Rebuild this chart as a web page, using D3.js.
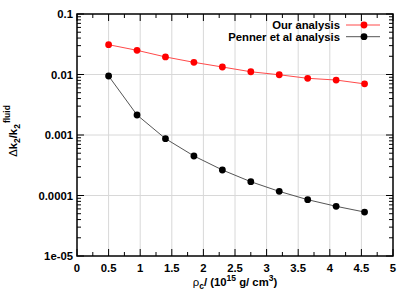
<!DOCTYPE html>
<html lang="en">
	<head>
		<meta charset="utf-8">
		<title>Delta k2 / k2 fluid</title>
		<script src="https://cdn.jsdelivr.net/npm/d3@7"></script>
		<style type="text/css">
			body { margin: 0; background: #fff; }
			text { font-family: "Liberation Sans", Arial, sans-serif; font-weight: bold; }
		</style>
	</head>
	<body>
		<script type="text/javascript">

			//Width and height
			var w = 415;
			var h = 297;
			var margin = { top: 14, right: 22, bottom: 41, left: 77 };

			// data
			var rho = [0.5, 0.95, 1.4, 1.85, 2.3, 2.75, 3.2, 3.65, 4.1, 4.55];
			var ourAnalysis = [0.0311, 0.0251, 0.0195, 0.0159, 0.0133, 0.0111, 0.0099, 0.00865, 0.0081, 0.0070];
			var pennerAnalysis = [0.00945, 0.00214, 0.00087, 0.00045, 0.000264, 0.000169, 0.000117, 0.0000853, 0.0000663, 0.0000533];
			var xTicks = [0, 0.5, 1, 1.5, 2, 2.5, 3, 3.5, 4, 4.5, 5];
			var yTicks = [0.1, 0.01, 0.001, 0.0001, 0.00001];
			var yTickLabels = ["0.1", "0.01", "0.001", "0.0001", "1e-05"];

			var series = [
				{ name: "Our analysis", values: ourAnalysis, line: "#ff4a4a", dot: "#ff0000" },
				{ name: "Penner et al analysis", values: pennerAnalysis, line: "#555555", dot: "#000000" }
			];

			var x = d3.scaleLinear().domain([0, 5]).range([margin.left, w - margin.right]);
			var y = d3.scaleLog().domain([0.00001, 0.1]).range([h - margin.bottom, margin.top]);

			var svg = d3.select("body")
						.append("svg")
						.attr("width", w)
						.attr("height", h);

			// grid
			svg.append("g")
			   .selectAll("line")
			   .data(xTicks.slice(1, -1))
			   .enter()
			   .append("line")
			   .attr("x1", function(d) { return x(d); })
			   .attr("x2", function(d) { return x(d); })
			   .attr("y1", y.range()[0])
			   .attr("y2", y.range()[1])
			   .attr("stroke", "#d8d8d8")
			   .attr("stroke-width", 1);

			svg.append("g")
			   .selectAll("line")
			   .data(yTicks.slice(1, -1))
			   .enter()
			   .append("line")
			   .attr("y1", function(d) { return y(d); })
			   .attr("y2", function(d) { return y(d); })
			   .attr("x1", x.range()[0])
			   .attr("x2", x.range()[1])
			   .attr("stroke", "#d8d8d8")
			   .attr("stroke-width", 1);

			// minor ticks
			var yMinor = [];
			for (var e = -5; e < -1; e++) {
				for (var m = 2; m < 10; m++) yMinor.push(m * Math.pow(10, e));
			}
			var xMinor = d3.range(0.25, 5, 0.5);

			var tickG = svg.append("g").attr("stroke", "#000").attr("stroke-width", 1);
			[[x.range()[0], 1], [x.range()[1], -1]].forEach(function(s) {
				tickG.selectAll(null).data(yTicks).enter().append("line")
				   .attr("x1", s[0]).attr("x2", s[0] + s[1] * 7)
				   .attr("y1", function(d) { return y(d); }).attr("y2", function(d) { return y(d); });
				tickG.selectAll(null).data(yMinor).enter().append("line")
				   .attr("x1", s[0]).attr("x2", s[0] + s[1] * 4)
				   .attr("y1", function(d) { return y(d); }).attr("y2", function(d) { return y(d); });
			});
			[[y.range()[0], -1], [y.range()[1], 1]].forEach(function(s) {
				tickG.selectAll(null).data(xTicks).enter().append("line")
				   .attr("y1", s[0]).attr("y2", s[0] + s[1] * 7)
				   .attr("x1", function(d) { return x(d); }).attr("x2", function(d) { return x(d); });
				tickG.selectAll(null).data(xMinor).enter().append("line")
				   .attr("y1", s[0]).attr("y2", s[0] + s[1] * 4)
				   .attr("x1", function(d) { return x(d); }).attr("x2", function(d) { return x(d); });
			});

			// frame
			svg.append("rect")
			   .attr("x", x.range()[0])
			   .attr("y", y.range()[1])
			   .attr("width", x.range()[1] - x.range()[0])
			   .attr("height", y.range()[0] - y.range()[1])
			   .attr("fill", "none")
			   .attr("stroke", "#000")
			   .attr("stroke-width", 1.5);

			// tick labels
			svg.selectAll(".xl")
			   .data(xTicks)
			   .enter()
			   .append("text")
			   .text(function(d) { return d; })
			   .attr("x", function(d) { return x(d); })
			   .attr("y", y.range()[0] + 16)
			   .attr("text-anchor", "middle")
			   .attr("font-size", "11.3px");

			svg.selectAll(".yl")
			   .data(yTicks)
			   .enter()
			   .append("text")
			   .text(function(d, i) { return yTickLabels[i]; })
			   .attr("x", x.range()[0] - 4)
			   .attr("y", function(d) { return y(d) + 4; })
			   .attr("text-anchor", "end")
			   .attr("font-size", "11.3px");

			// lines and points
			var line = d3.line()
			   .x(function(d, i) { return x(rho[i]); })
			   .y(function(d) { return y(d); });

			series.forEach(function(s) {
				svg.append("path")
				   .attr("d", line(s.values))
				   .attr("fill", "none")
				   .attr("stroke", s.line)
				   .attr("stroke-width", 1);
				svg.selectAll(null)
				   .data(s.values)
				   .enter()
				   .append("circle")
				   .attr("cx", function(d, i) { return x(rho[i]); })
				   .attr("cy", function(d) { return y(d); })
				   .attr("r", 3.4)
				   .attr("fill", s.dot);
			});

			// legend
			var legend = svg.selectAll(".legend")
			   .data(series)
			   .enter()
			   .append("g")
			   .attr("transform", function(d, i) { return "translate(0," + (25 + i * 11.7) + ")"; });
			legend.append("text")
			   .text(function(d) { return d.name; })
			   .attr("x", 340)
			   .attr("y", 4)
			   .attr("text-anchor", "end")
			   .attr("font-size", "11.3px");
			legend.append("line")
			   .attr("x1", 346).attr("x2", 380)
			   .attr("stroke", function(d) { return d.line; })
			   .attr("stroke-width", 1);
			legend.append("circle")
			   .attr("cx", 364)
			   .attr("r", 3.4)
			   .attr("fill", function(d) { return d.dot; });

			// axis labels
			var xl = svg.append("text")
			   .attr("x", 235)
			   .attr("y", 286)
			   .attr("text-anchor", "middle")
			   .attr("font-size", "11.3px");
			xl.append("tspan").text("\u03c1").attr("font-weight", "normal");
			xl.append("tspan").text("c").attr("font-size", "8.5px").attr("dy", 3);
			xl.append("tspan").text("/ (10").attr("dy", -3);
			xl.append("tspan").text("15").attr("font-size", "8.5px").attr("dy", -5);
			xl.append("tspan").text(" g/ cm").attr("dy", 5);
			xl.append("tspan").text("3").attr("font-size", "8.5px").attr("dy", -5);
			xl.append("tspan").text(")").attr("dy", 5);

			var yl = svg.append("text")
			   .attr("transform", "translate(17,131) rotate(-90)")
			   .attr("text-anchor", "middle")
			   .attr("font-size", "11.3px");
			yl.append("tspan").text("\u0394").attr("font-weight", "normal");
			yl.append("tspan").text("k");
			yl.append("tspan").text("2").attr("font-size", "8.5px").attr("dy", 3);
			yl.append("tspan").text("/k").attr("dy", -3);
			yl.append("tspan").text("2").attr("font-size", "8.5px").attr("dy", 3);
			yl.append("tspan").text("fluid").attr("font-size", "8.5px").attr("dy", -10).attr("dx", 1);

		</script>
	</body>
</html>
